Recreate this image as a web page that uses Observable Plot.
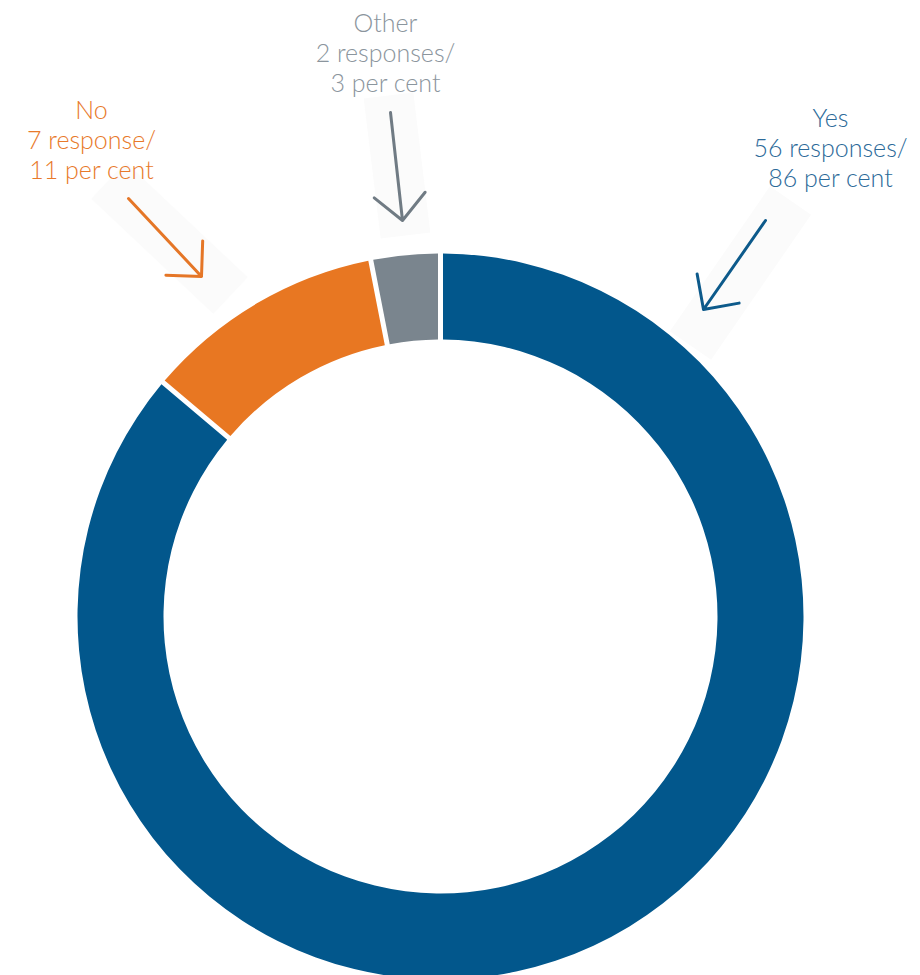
<!DOCTYPE html>
<html>
<head>
<meta charset="utf-8">
<script src="https://cdn.jsdelivr.net/npm/d3@7"></script>
<script src="https://cdn.jsdelivr.net/npm/@observablehq/plot@0.6"></script>
<style>
  html, body { margin: 0; padding: 0; background: #fff; }
  #chart svg { display: block; }
</style>
</head>
<body>
<div id="chart"></div>
<script>
// ---- data ----
const categories = ["Yes", "No", "Other"];
const responses = [56, 7, 2];
const percents = [86, 11, 3];
const responseWord = ["responses", "response", "responses"];

// ---- styles ----
const sliceColors = ["#02578c", "#e87722", "#7a858e"];
const textColors = ["#2c6a99", "#e8792a", "#8b959d"];
const arrowColors = ["#0d5a8b", "#e57627", "#707b84"];

// ---- layout (annotation positions, in pixel space of the chart) ----
const W = 920, H = 975;
const center = [440.5, 616.5];
const outerR = 363, innerR = 277;
const labelPos = [[830, 147], [91, 139], [385, 52]];
const arrowFrom = [[765, 220], [128, 198], [390, 112]];
const arrowTo = [[703, 309], [201, 276], [402, 220]];
const shadowFrom = [[790, 200], [108, 180], [388, 95]];
const shadowTo = [[690, 345], [230, 295], [405, 235]];

const rows = categories.map((c, i) => ({
  category: c,
  value: responses[i],
  label: `${c}\n${responses[i]} ${responseWord[i]}/\n${percents[i]} per cent`,
  lx: labelPos[i][0], ly: labelPos[i][1],
  ax1: arrowFrom[i][0], ay1: arrowFrom[i][1],
  ax2: arrowTo[i][0], ay2: arrowTo[i][1],
  sx1: shadowFrom[i][0], sy1: shadowFrom[i][1],
  sx2: shadowTo[i][0], sy2: shadowTo[i][1],
  color: sliceColors[i], tcolor: textColors[i], acolor: arrowColors[i]
}));

// donut mark drawn through the plot's x/y scales
function donut(index, scales) {
  const cx = scales.x(center[0]), cy = scales.y(center[1]);
  const r0 = scales.x(center[0] + innerR) - cx;
  const r1 = scales.x(center[0] + outerR) - cx;
  const pie = d3.pie().sort(null).value(d => d.value)(rows);
  const arc = d3.arc().innerRadius(r0).outerRadius(r1)
    .padAngle(5 / 320).padRadius(320);
  const g = d3.create("svg:g").attr("transform", `translate(${cx},${cy})`);
  g.selectAll("path").data(pie).join("path")
    .attr("d", arc)
    .attr("fill", d => d.data.color);
  return g.node();
}

const font = "Lato, 'Open Sans', sans-serif";

const chart = Plot.plot({
  width: W,
  height: H,
  margin: 0,
  x: { domain: [0, W], range: [0, W], axis: null },
  y: { domain: [0, H], range: [0, H], axis: null },
  marks: [
    Plot.link(rows, {
      x1: "sx1", y1: "sy1", x2: "sx2", y2: "sy2",
      stroke: "#fbfbfb", strokeWidth: 50, strokeLinecap: "butt"
    }),
    donut,
    Plot.arrow(rows, {
      x1: "ax1", y1: "ay1", x2: "ax2", y2: "ay2",
      stroke: "acolor", strokeWidth: 3, headLength: 22, headAngle: 90,
      bend: 0, inset: 0, strokeLinecap: "round", strokeLinejoin: "round"
    }),
    Plot.text(rows, {
      x: "lx", y: "ly", text: "label", fill: "tcolor",
      fontSize: 25, lineHeight: 1.2, lineAnchor: "middle",
      textAnchor: "middle", fontFamily: font, fontWeight: 300
    })
  ]
});

document.getElementById("chart").append(chart);
</script>
</body>
</html>
